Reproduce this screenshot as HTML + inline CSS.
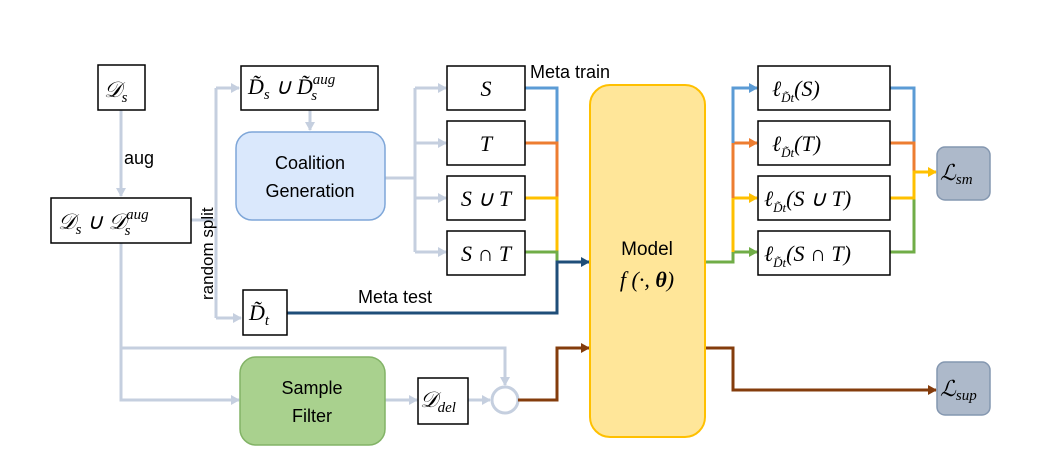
<!DOCTYPE html>
<html><head><meta charset="utf-8"><style>
body{margin:0;background:#fff;}
svg{display:block;}
.m{font-family:"Liberation Serif",serif;font-style:italic;}
.s{font-family:"Liberation Sans","DejaVu Sans",sans-serif;}
</style></head><body>
<svg width="1055" height="472" viewBox="0 0 1055 472" xmlns="http://www.w3.org/2000/svg">
<defs>
<marker id="ag" markerWidth="10" markerHeight="10" refX="8" refY="5" orient="auto" markerUnits="userSpaceOnUse"><path d="M0,0 L9,5 L0,10 z" fill="#c5cfdf"/></marker>
<marker id="ab" markerWidth="10" markerHeight="10" refX="8" refY="5" orient="auto" markerUnits="userSpaceOnUse"><path d="M0,0 L9,5 L0,10 z" fill="#5b9bd5"/></marker>
<marker id="ao" markerWidth="10" markerHeight="10" refX="8" refY="5" orient="auto" markerUnits="userSpaceOnUse"><path d="M0,0 L9,5 L0,10 z" fill="#ed7d31"/></marker>
<marker id="ay" markerWidth="10" markerHeight="10" refX="8" refY="5" orient="auto" markerUnits="userSpaceOnUse"><path d="M0,0 L9,5 L0,10 z" fill="#ffc000"/></marker>
<marker id="agr" markerWidth="10" markerHeight="10" refX="8" refY="5" orient="auto" markerUnits="userSpaceOnUse"><path d="M0,0 L9,5 L0,10 z" fill="#70ad47"/></marker>
<marker id="ad" markerWidth="10" markerHeight="10" refX="8" refY="5" orient="auto" markerUnits="userSpaceOnUse"><path d="M0,0 L9,5 L0,10 z" fill="#1f4e79"/></marker>
<marker id="abr" markerWidth="10" markerHeight="10" refX="8" refY="5" orient="auto" markerUnits="userSpaceOnUse"><path d="M0,0 L9,5 L0,10 z" fill="#843c0c"/></marker>
</defs>
<g fill="none" stroke="#c5cfdf" stroke-width="3">
<path d="M121,110 V196" marker-end="url(#ag)"/>
<path d="M191,220 H216 M216,88 V318"/>
<path d="M216,88 H239" marker-end="url(#ag)"/>
<path d="M216,318 H241" marker-end="url(#ag)"/>
<path d="M310,110 V130" marker-end="url(#ag)"/>
<path d="M385,178 H415 M415,88 V252"/>
<path d="M415,88 H446" marker-end="url(#ag)"/>
<path d="M415,143 H446" marker-end="url(#ag)"/>
<path d="M415,198 H446" marker-end="url(#ag)"/>
<path d="M415,252 H446" marker-end="url(#ag)"/>
<path d="M121,243 V400 H239" marker-end="url(#ag)"/>
<path d="M121,348 H505 V385" marker-end="url(#ag)"/>
<path d="M385,400 H417" marker-end="url(#ag)"/>
<path d="M468,400 H490" marker-end="url(#ag)"/>
<circle cx="505" cy="400" r="13"/>
</g>
<g fill="none" stroke-width="3">
<path d="M525,88 H557 V143" stroke="#5b9bd5"/>
<path d="M525,143 H557 V198" stroke="#ed7d31"/>
<path d="M525,198 H557 V252" stroke="#ffc000"/>
<path d="M525,252 H557 V262" stroke="#70ad47"/>
<path d="M287,313 H557 V262 H589" stroke="#1f4e79" marker-end="url(#ad)"/>
<path d="M518,400 H557 V348 H589" stroke="#843c0c" marker-end="url(#abr)"/>
<path d="M705,262 H733 V252" stroke="#70ad47"/>
<path d="M733,252 H757" stroke="#70ad47" marker-end="url(#agr)"/>
<path d="M733,252 V198 H757" stroke="#ffc000" marker-end="url(#ay)"/>
<path d="M733,198 V143 H757" stroke="#ed7d31" marker-end="url(#ao)"/>
<path d="M733,143 V88 H757" stroke="#5b9bd5" marker-end="url(#ab)"/>
<path d="M890,88 H914 V143" stroke="#5b9bd5"/>
<path d="M890,143 H914 V172" stroke="#ed7d31"/>
<path d="M890,252 H914 V198" stroke="#70ad47"/>
<path d="M890,198 H914 V172 H936" stroke="#ffc000" marker-end="url(#ay)"/>
<path d="M705,348 H733 V390 H936" stroke="#843c0c" marker-end="url(#abr)"/>
</g>
<g fill="#fff" stroke="#000" stroke-width="1.5">
<rect x="98" y="65" width="47" height="45"/>
<rect x="51" y="198" width="140" height="45"/>
<rect x="241" y="66" width="137" height="44"/>
<rect x="447" y="66" width="78" height="44"/>
<rect x="447" y="121" width="78" height="44"/>
<rect x="447" y="176" width="78" height="44"/>
<rect x="447" y="231" width="78" height="44"/>
<rect x="243" y="290" width="44" height="45"/>
<rect x="418" y="378" width="50" height="46"/>
<rect x="758" y="66" width="132" height="44"/>
<rect x="758" y="121" width="132" height="44"/>
<rect x="758" y="176" width="132" height="44"/>
<rect x="758" y="231" width="132" height="44"/>
</g>
<rect x="236" y="132" width="149" height="88" rx="16" fill="#dae8fc" stroke="#7ea6d8" stroke-width="1.5"/>
<rect x="240" y="357" width="145" height="88" rx="16" fill="#a9d18e" stroke="#82b366" stroke-width="1.5"/>
<rect x="590" y="85" width="115" height="352" rx="20" fill="#ffe699" stroke="#ffc000" stroke-width="2"/>
<rect x="937" y="147" width="53" height="53" rx="8" fill="#adb9ca" stroke="#8497b0" stroke-width="1.5"/>
<rect x="937" y="362" width="53" height="53" rx="8" fill="#adb9ca" stroke="#8497b0" stroke-width="1.5"/>
<g class="m" fill="#000" font-size="22">
<text x="104" y="97">𝒟<tspan font-size="15" dy="5">s</tspan></text>
<text x="58" y="229">𝒟<tspan font-size="15" dy="5">s</tspan><tspan dy="-5"> ∪ 𝒟</tspan><tspan font-size="15" dy="-10">aug</tspan><tspan font-size="15" dx="-24" dy="16">s</tspan></text>
<text x="248" y="94">D̃<tspan font-size="15" dy="5">s</tspan><tspan dy="-5"> ∪ D̃</tspan><tspan font-size="15" dy="-10">aug</tspan><tspan font-size="15" dx="-24" dy="16">s</tspan></text>
<text x="486" y="96" text-anchor="middle">S</text>
<text x="486" y="151" text-anchor="middle">T</text>
<text x="486" y="206" text-anchor="middle">S ∪ T</text>
<text x="486" y="261" text-anchor="middle">S ∩ T</text>
<text x="249" y="320">D̃<tspan font-size="15" dy="5">t</tspan></text>
<text x="420" y="407">𝒟<tspan font-size="15" dy="5">del</tspan></text>
<text x="772" y="96">ℓ<tspan font-size="13" dy="6">D̃t</tspan><tspan dy="-6">(S)</tspan></text>
<text x="772" y="151">ℓ<tspan font-size="13" dy="6">D̃t</tspan><tspan dy="-6">(T)</tspan></text>
<text x="764" y="206">ℓ<tspan font-size="13" dy="6">D̃t</tspan><tspan dy="-6">(S ∪ T)</tspan></text>
<text x="764" y="261">ℓ<tspan font-size="13" dy="6">D̃t</tspan><tspan dy="-6">(S ∩ T)</tspan></text>
<text x="940" y="180">ℒ<tspan font-size="15" dy="4">sm</tspan></text>
<text x="940" y="396">ℒ<tspan font-size="15" dy="4">sup</tspan></text>
<text x="647" y="287" text-anchor="middle">f (·, <tspan font-weight="bold">θ</tspan>)</text>
</g>
<g class="s" fill="#000" font-size="18">
<text x="124" y="164">aug</text>
<text x="530" y="78">Meta train</text>
<text x="358" y="303">Meta test</text>
<text x="647" y="255" text-anchor="middle" font-size="19">Model</text>
<text x="310" y="169" text-anchor="middle" font-size="18">Coalition</text>
<text x="310" y="197" text-anchor="middle" font-size="18">Generation</text>
<text x="312" y="394" text-anchor="middle" font-size="18">Sample</text>
<text x="312" y="422" text-anchor="middle" font-size="18">Filter</text>
<text transform="translate(213,300) rotate(-90)" font-size="17">random split</text>
</g>
</svg>
</body></html>
